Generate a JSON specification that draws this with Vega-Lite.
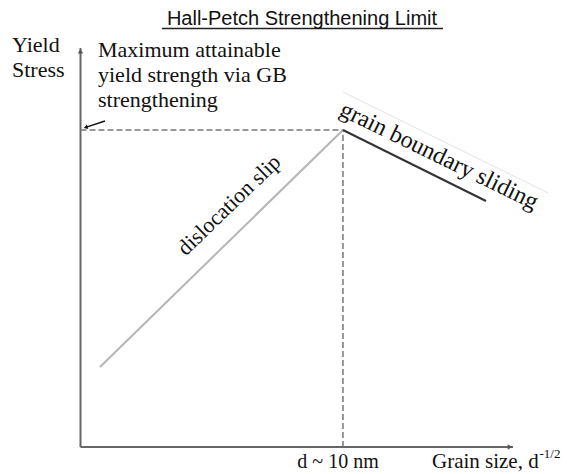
{
  "$schema": "https://vega.github.io/schema/vega-lite/v6.json",
  "width": 567,
  "height": 474,
  "padding": 0,
  "autosize": {"type": "fit", "contains": "padding"},
  "background": "white",
  "config": {"view": {"stroke": null}},
  "datasets": {
    "axes": [
      {"x": 0, "y": 0, "x2": 10, "y2": 0},
      {"x": 0, "y": 0, "x2": 0, "y2": 10}
    ],
    "axisTips": [
      {"x": 9.93, "y": 0, "dir": "x"},
      {"x": 0, "y": 9.92, "dir": "y"}
    ],
    "dashed": [
      {"x": 0, "y": 7.945, "x2": 6.069, "y2": 7.945},
      {"x": 6.069, "y": 0, "x2": 6.069, "y2": 7.945}
    ],
    "slip": [{"x": 0.451, "y": 2.005, "x2": 6.069, "y2": 7.945}],
    "gbs": [{"x": 6.069, "y": 7.945, "x2": 9.376, "y2": 6.165}],
    "box": [{"x": 6.069, "y": 8.897, "x2": 10.809, "y2": 6.366}],
    "pointer": [{"x": 0.566, "y": 8.17, "x2": 0.12, "y2": 8.01}],
    "pointerTip": [{"x": 0.12, "y": 8.01}],
    "underline": [{"x": 1.884, "y": 10.489, "x2": 8.382, "y2": 10.489}],
    "title": [{"x": 5.121, "y": 10.576, "label": "Hall-Petch Strengthening Limit"}],
    "leftLabels": [
      {"x": -1.584, "y": 9.9, "label": "Yield"},
      {"x": -1.584, "y": 9.273, "label": "Stress"},
      {"x": 0.405, "y": 9.774, "label": "Maximum attainable"},
      {"x": 0.405, "y": 9.148, "label": "yield strength via GB"},
      {"x": 0.405, "y": 8.521, "label": "strengthening"}
    ],
    "slipLabel": [{"x": 3.434, "y": 6.065, "label": "dislocation slip"}],
    "gbsLabel": [{"x": 8.289, "y": 7.293, "label": "grain boundary sliding"}],
    "dLabel": [{"x": 5.954, "y": -0.526, "label": "d ~ 10 nm"}],
    "xLabel": [{"x": 8.127, "y": -0.526, "label": "Grain size, d"}],
    "xSup": [{"x": 10.613, "y": -0.276, "label": "-1/2"}]
  },
  "encoding": {
    "x": {"field": "x", "type": "quantitative", "scale": {"domain": [-1.861, 11.249], "nice": false, "zero": false}, "axis": null},
    "y": {"field": "y", "type": "quantitative", "scale": {"domain": [-0.677, 11.203], "nice": false, "zero": false}, "axis": null}
  },
  "layer": [
    {
      "data": {"name": "box"},
      "mark": {"type": "rule", "stroke": "#e4e4e4", "strokeWidth": 1},
      "encoding": {"x2": {"field": "x2"}, "y2": {"field": "y2"}}
    },
    {
      "data": {"name": "axes"},
      "mark": {"type": "rule", "stroke": "#666666", "strokeWidth": 2},
      "encoding": {"x2": {"field": "x2"}, "y2": {"field": "y2"}}
    },
    {
      "data": {"name": "axisTips"},
      "mark": {"type": "point", "filled": true, "color": "#555555", "size": 28, "opacity": 1},
      "encoding": {
        "shape": {"field": "dir", "type": "nominal", "scale": {"domain": ["x", "y"], "range": ["triangle-right", "triangle-up"]}, "legend": null}
      }
    },
    {
      "data": {"name": "dashed"},
      "mark": {"type": "rule", "stroke": "#777777", "strokeWidth": 1.5, "strokeDash": [6, 3]},
      "encoding": {"x2": {"field": "x2"}, "y2": {"field": "y2"}}
    },
    {
      "data": {"name": "slip"},
      "mark": {"type": "rule", "stroke": "#b5b5b5", "strokeWidth": 2},
      "encoding": {"x2": {"field": "x2"}, "y2": {"field": "y2"}}
    },
    {
      "data": {"name": "gbs"},
      "mark": {"type": "rule", "stroke": "#333333", "strokeWidth": 2},
      "encoding": {"x2": {"field": "x2"}, "y2": {"field": "y2"}}
    },
    {
      "data": {"name": "pointer"},
      "mark": {"type": "rule", "stroke": "#111111", "strokeWidth": 1.5},
      "encoding": {"x2": {"field": "x2"}, "y2": {"field": "y2"}}
    },
    {
      "data": {"name": "pointerTip"},
      "mark": {"type": "point", "shape": "triangle-left", "filled": true, "color": "#111111", "size": 22, "angle": -18, "opacity": 1}
    },
    {
      "data": {"name": "underline"},
      "mark": {"type": "rule", "stroke": "#222222", "strokeWidth": 1.5},
      "encoding": {"x2": {"field": "x2"}, "y2": {"field": "y2"}}
    },
    {
      "data": {"name": "title"},
      "mark": {"type": "text", "font": "Liberation Sans", "fontSize": 20, "align": "center", "baseline": "alphabetic", "color": "#111111"},
      "encoding": {"text": {"field": "label"}}
    },
    {
      "data": {"name": "leftLabels"},
      "mark": {"type": "text", "font": "Liberation Serif", "fontSize": 22, "align": "left", "baseline": "alphabetic", "color": "#111111"},
      "encoding": {"text": {"field": "label"}}
    },
    {
      "data": {"name": "slipLabel"},
      "mark": {"type": "text", "font": "Liberation Serif", "fontSize": 22, "align": "center", "baseline": "middle", "angle": -44, "color": "#111111"},
      "encoding": {"text": {"field": "label"}}
    },
    {
      "data": {"name": "gbsLabel"},
      "mark": {"type": "text", "font": "Liberation Serif", "fontSize": 24, "align": "center", "baseline": "middle", "angle": 26, "color": "#111111"},
      "encoding": {"text": {"field": "label"}}
    },
    {
      "data": {"name": "dLabel"},
      "mark": {"type": "text", "font": "Liberation Serif", "fontSize": 20, "align": "center", "baseline": "alphabetic", "color": "#111111"},
      "encoding": {"text": {"field": "label"}}
    },
    {
      "data": {"name": "xLabel"},
      "mark": {"type": "text", "font": "Liberation Serif", "fontSize": 21, "align": "left", "baseline": "alphabetic", "color": "#111111"},
      "encoding": {"text": {"field": "label"}}
    },
    {
      "data": {"name": "xSup"},
      "mark": {"type": "text", "font": "Liberation Serif", "fontSize": 13, "align": "left", "baseline": "alphabetic", "color": "#111111"},
      "encoding": {"text": {"field": "label"}}
    }
  ]
}
